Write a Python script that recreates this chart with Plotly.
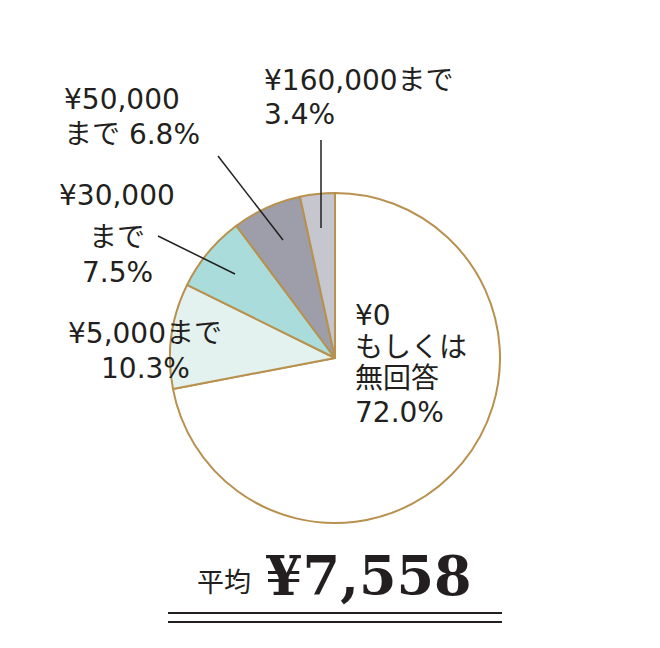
import plotly.graph_objects as go

W, H = 660, 648
OFF = 8  # page body margin in the browser

# slices, clockwise from 12 o'clock
labels = ["¥0 もしくは無回答", "¥5,000まで", "¥30,000まで", "¥50,000まで", "¥160,000まで"]
values = [72.0, 10.3, 7.5, 6.8, 3.4]
colors = ["#ffffff", "#e3f2ef", "#a9dcda", "#9d9eaa", "#c5c6ce"]

# label lines per slice
label_lines = [
    ["¥0", "もしくは", "無回答", "72.0%"],
    ["¥5,000まで", "10.3%"],
    ["¥30,000", "まで", "7.5%"],
    ["¥50,000", "まで 6.8%"],
    ["¥160,000まで", "3.4%"],
]
average_label = "平均"
average_value = "¥7,558"

TEXT = "#231f20"
BORDER = "#b8914e"
FONT = "DejaVu Sans, Noto Sans CJK JP, sans-serif"


def px(x):
    return (x - OFF) / W


def py(y):
    return 1 - (y - OFF) / H


fig = go.Figure()
fig.add_trace(go.Pie(
    labels=labels, values=values, sort=False, direction="clockwise",
    marker=dict(colors=colors, line=dict(color=BORDER, width=2)),
    textinfo="none", hoverinfo="label+percent", showlegend=False,
    domain=dict(x=[px(170), px(500)], y=[py(523), py(193)]),
))

# placement per slice: x, anchor, y of each line
label_pos = [
    (353, "left", [315, 347, 378, 412]),
    (145, "center", [333, 368]),
    (117, "center", [195, 237, 272]),
    (62, "left", [100, 135]),
    (262, "left", [80, 115]),
]
annotations = []
for lines, (x, xa, ys) in zip(label_lines, label_pos):
    for txt, y in zip(lines, ys):
        annotations.append(dict(
            x=px(x), y=py(y), xref="paper", yref="paper", text=txt, showarrow=False,
            xanchor=xa, yanchor="middle",
            font=dict(family=FONT, size=28, color=TEXT),
        ))

annotations.append(dict(
    x=px(195), y=py(580), xref="paper", yref="paper", text=average_label,
    showarrow=False, xanchor="left", yanchor="middle",
    font=dict(family="Noto Sans CJK JP", size=27, color=TEXT),
))
annotations.append(dict(
    x=px(263), y=py(576), xref="paper", yref="paper", text="<b>" + average_value + "</b>",
    showarrow=False, xanchor="left", yanchor="middle",
    font=dict(family="DejaVu Serif", size=54, color=TEXT),
))

# leader lines
leaders = [
    ((321, 140), (321, 228)),
    ((218, 156), (283, 240)),
    ((158, 236), (235, 274)),
]
shapes = []
for (x0, y0), (x1, y1) in leaders:
    shapes.append(dict(type="line", xref="paper", yref="paper",
                       x0=px(x0), y0=py(y0), x1=px(x1), y1=py(y1),
                       line=dict(color=TEXT, width=1.5)))
for yy in (613, 622):
    shapes.append(dict(type="line", xref="paper", yref="paper",
                       x0=px(168), y0=py(yy), x1=px(502), y1=py(yy),
                       line=dict(color=TEXT, width=2)))

fig.update_layout(
    width=W, height=H,
    margin=dict(l=0, r=0, t=0, b=0),
    paper_bgcolor="white", plot_bgcolor="white",
    annotations=annotations, shapes=shapes,
)
fig.write_html("out.html")
